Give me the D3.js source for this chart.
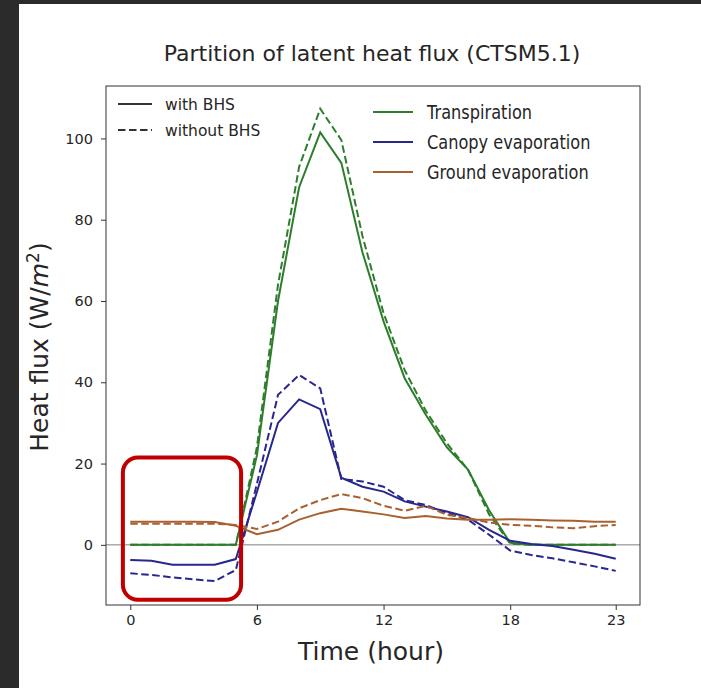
<!DOCTYPE html>
<html>
<head>
<meta charset="utf-8">
<script src="https://cdn.jsdelivr.net/npm/d3@7"></script>
<style>
  body { margin: 0; background: #2b2b2b; }
  #chart { position: absolute; left: 19px; top: 4px; width: 682px; height: 684px; background: #fff; }
  svg { position: absolute; left: 0; top: 0; }
  text { font-family: "DejaVu Sans", sans-serif; fill: #262626; }
</style>
</head>
<body>
<div id="chart"></div>
<script>
'use strict'

// ---------- data ----------
const hours = d3.range(0, 24)
const xTicks = [0, 6, 12, 18, 23]
const yTicks = [0, 20, 40, 60, 80, 100]

const transWith    = [0, 0, 0, 0, 0, 0, 22, 60, 88, 101.5, 94, 72, 55, 41, 32, 24, 18.5, 8.5, 0.5, 0, 0, 0, 0, 0]
const transWithout = [0, 0, 0, 0, 0, 0, 24, 64, 93, 107.3, 99.6, 76, 57, 43, 33, 25, 18.5, 7.5, 0.3, 0, 0, 0, 0, 0]
const canopyWith    = [-3.7, -3.9, -4.9, -4.9, -4.9, -3.5, 13, 30, 35.8, 33.4, 16.5, 14.3, 13.1, 10.7, 9.4, 8.2, 6.8, 3.7, 1, 0.2, -0.3, -1.2, -2.2, -3.4]
const canopyWithout = [-7.0, -7.4, -8.0, -8.5, -8.9, -6.2, 15, 36.9, 41.8, 38.5, 16.2, 15.6, 14.3, 11, 9.8, 7.8, 6.2, 2.5, -1.4, -2.5, -3.3, -4.3, -5.3, -6.4]
const groundWith    = [5.7, 5.7, 5.7, 5.7, 5.6, 4.7, 2.6, 3.7, 6.2, 7.8, 8.9, 8.2, 7.5, 6.6, 7.1, 6.5, 6.2, 6.2, 6.3, 6.2, 6.0, 5.9, 5.7, 5.7]
const groundWithout = [5.2, 5.2, 5.2, 5.2, 5.2, 4.9, 3.9, 5.7, 9, 11, 12.5, 11.5, 9.6, 8.4, 9.6, 7.4, 6.6, 5.5, 4.9, 4.7, 4.3, 4.1, 4.6, 4.9]

const seriesNames = ['Transpiration', 'Canopy evaporation', 'Ground evaporation']
const seriesColors = ['#2d7d2d', '#27278e', '#a8602e']
const seriesWith = [transWith, canopyWith, groundWith]
const seriesWithout = [transWithout, canopyWithout, groundWithout]

// highlight box, in data units
const boxHours = [-0.35, 5.25]
const boxValues = [21.5, -13.5]

// ---------- svg setup ----------
const W = 682, H = 684
const ox = 19, oy = 4   // chart div offset in the page
const dash = '7.5,3.5'

const svg = d3.select('#chart')
    .append('svg')
    .attr('width', W)
    .attr('height', H)

const plot = { left: 106 - ox, right: 640 - ox, top: 86 - oy, bottom: 605 - oy }

const xScale = d3.scaleLinear()
    .domain([-1.15, 24.15])
    .range([plot.left, plot.right])

const yScale = d3.scaleLinear()
    .domain([-14.8, 112.9])
    .range([plot.bottom, plot.top])

// zero line
svg.append('line')
    .attr('x1', plot.left).attr('x2', plot.right)
    .attr('y1', yScale(0)).attr('y2', yScale(0))
    .attr('stroke', '#808080')
    .attr('stroke-width', 1)

// ---------- lines ----------
const line = d3.line()
    .x((d, i) => xScale(hours[i]))
    .y(d => yScale(d))

seriesWith.forEach((s, k) => {
    svg.append('path')
        .datum(seriesWithout[k])
        .attr('d', line)
        .attr('fill', 'none')
        .attr('stroke', seriesColors[k])
        .attr('stroke-width', 2)
        .attr('stroke-dasharray', dash)
    svg.append('path')
        .datum(s)
        .attr('d', line)
        .attr('fill', 'none')
        .attr('stroke', seriesColors[k])
        .attr('stroke-width', 2)
})

// ---------- axes ----------
const xAxis = svg.append('g')
    .attr('transform', `translate(0,${plot.bottom})`)
    .call(d3.axisBottom(xScale).tickValues(xTicks).tickSize(5).tickPadding(5))
const yAxis = svg.append('g')
    .attr('transform', `translate(${plot.left},0)`)
    .call(d3.axisLeft(yScale).tickValues(yTicks).tickSize(5).tickPadding(8))

;[xAxis, yAxis].forEach(a => {
    a.select('.domain').remove()
    a.selectAll('line').attr('stroke', '#333')
    a.selectAll('text').style('font-size', '14.5px').style('font-family', '"DejaVu Sans", sans-serif').attr('fill', '#333')
})

// frame
svg.append('rect')
    .attr('x', plot.left).attr('y', plot.top)
    .attr('width', plot.right - plot.left)
    .attr('height', plot.bottom - plot.top)
    .attr('fill', 'none')
    .attr('stroke', '#333')
    .attr('stroke-width', 1)

// ---------- labels ----------
svg.append('text')
    .attr('x', 372 - ox).attr('y', 61 - oy)
    .attr('text-anchor', 'middle')
    .style('font-size', '22px')
    .text('Partition of latent heat flux (CTSM5.1)')

svg.append('text')
    .attr('x', 371 - ox).attr('y', 660 - oy)
    .attr('text-anchor', 'middle')
    .style('font-size', '25px')
    .text('Time (hour)')

const yl = svg.append('text')
    .attr('transform', `translate(${48 - ox},${347 - oy}) rotate(-90)`)
    .attr('text-anchor', 'middle')
    .style('font-size', '25px')
yl.append('tspan').text('Heat flux (W/')
yl.append('tspan').style('font-style', 'italic').text('m')
yl.append('tspan').attr('dy', -9).style('font-size', '17px').text('2')
yl.append('tspan').attr('dy', 9).text(')')

// ---------- legends ----------
const styleLegend = svg.append('g')
const styles = [{ name: 'with BHS', dash: null }, { name: 'without BHS', dash: dash }]
styles.forEach((s, i) => {
    const y = 104 - oy + i * 26
    styleLegend.append('line')
        .attr('x1', 118 - ox).attr('x2', 152 - ox)
        .attr('y1', y).attr('y2', y)
        .attr('stroke', '#333')
        .attr('stroke-width', 2)
        .attr('stroke-dasharray', s.dash)
    styleLegend.append('text')
        .attr('x', 165 - ox).attr('y', y + 5.5)
        .style('font-size', '15.5px')
        .text(s.name)
})

const colorLegend = svg.append('g')
seriesNames.forEach((n, i) => {
    const y = 112 - oy + i * 30
    colorLegend.append('line')
        .attr('x1', 373 - ox).attr('x2', 413 - ox)
        .attr('y1', y).attr('y2', y)
        .attr('stroke', seriesColors[i])
        .attr('stroke-width', 2)
    // the legend type in the picture is a little narrow, so squeeze it
    colorLegend.append('text')
        .attr('transform', `translate(${427 - ox},${y + 7}) scale(0.87,1)`)
        .style('font-size', '18.6px')
        .text(n)
})

// ---------- highlight box ----------
svg.append('rect')
    .attr('x', xScale(boxHours[0]))
    .attr('y', yScale(boxValues[0]))
    .attr('width', xScale(boxHours[1]) - xScale(boxHours[0]))
    .attr('height', yScale(boxValues[1]) - yScale(boxValues[0]))
    .attr('rx', 15)
    .attr('fill', 'none')
    .attr('stroke', '#c00000')
    .attr('stroke-width', 4)
</script>
</body>
</html>
